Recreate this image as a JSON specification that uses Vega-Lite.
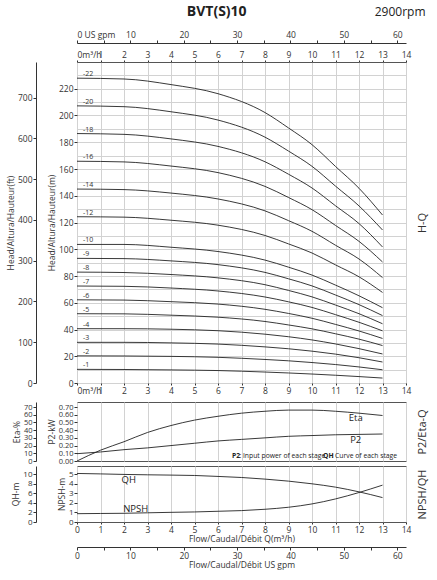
{
  "$schema": "https://vega.github.io/schema/vega-lite/v6.json",
  "padding": {"left": 5, "top": 4, "right": 2, "bottom": 2},
  "title": {"text": "BVT(S)10", "fontSize": 14, "fontWeight": "bold", "anchor": "middle", "color": "#222", "offset": -14},
  "datasets": {
    "hq": [
      {"stage":1,"q":0,"head":10.2},{"stage":1,"q":2,"head":10.1},{"stage":1,"q":4,"head":9.8},{"stage":1,"q":6,"head":9.3},{"stage":1,"q":8,"head":8.2},{"stage":1,"q":9,"head":7.5},{"stage":1,"q":10,"head":6.7},{"stage":1,"q":11,"head":5.8},{"stage":1,"q":12,"head":4.8},{"stage":1,"q":13,"head":3.7},
      {"stage":2,"q":0,"head":20.3},{"stage":2,"q":2,"head":20.2},{"stage":2,"q":4,"head":19.9},{"stage":2,"q":6,"head":19.2},{"stage":2,"q":8,"head":17.6},{"stage":2,"q":9,"head":16.6},{"stage":2,"q":10,"head":15.3},{"stage":2,"q":11,"head":13.8},{"stage":2,"q":12,"head":12.0},{"stage":2,"q":13,"head":9.9},
      {"stage":3,"q":0,"head":30.4},{"stage":3,"q":2,"head":30.4},{"stage":3,"q":4,"head":30.0},{"stage":3,"q":6,"head":29.1},{"stage":3,"q":8,"head":27.0},{"stage":3,"q":9,"head":25.6},{"stage":3,"q":10,"head":23.8},{"stage":3,"q":11,"head":21.6},{"stage":3,"q":12,"head":18.9},{"stage":3,"q":13,"head":15.7},
      {"stage":4,"q":0,"head":40.6},{"stage":4,"q":2,"head":40.6},{"stage":4,"q":4,"head":40.2},{"stage":4,"q":6,"head":39.1},{"stage":4,"q":8,"head":36.5},{"stage":4,"q":9,"head":34.6},{"stage":4,"q":10,"head":32.2},{"stage":4,"q":11,"head":29.2},{"stage":4,"q":12,"head":25.7},{"stage":4,"q":13,"head":21.7},
      {"stage":5,"q":0,"head":51.8},{"stage":5,"q":2,"head":51.7},{"stage":5,"q":4,"head":50.7},{"stage":5,"q":6,"head":49.2},{"stage":5,"q":8,"head":46.0},{"stage":5,"q":9,"head":43.4},{"stage":5,"q":10,"head":40.5},{"stage":5,"q":11,"head":36.8},{"stage":5,"q":12,"head":32.8},{"stage":5,"q":13,"head":28.0},
      {"stage":6,"q":0,"head":62.2},{"stage":6,"q":2,"head":62.0},{"stage":6,"q":4,"head":60.8},{"stage":6,"q":6,"head":59.0},{"stage":6,"q":8,"head":55.1},{"stage":6,"q":9,"head":52.0},{"stage":6,"q":10,"head":48.4},{"stage":6,"q":11,"head":43.8},{"stage":6,"q":12,"head":38.9},{"stage":6,"q":13,"head":33.3},
      {"stage":7,"q":0,"head":72.5},{"stage":7,"q":2,"head":72.3},{"stage":7,"q":4,"head":71.0},{"stage":7,"q":6,"head":68.8},{"stage":7,"q":8,"head":64.3},{"stage":7,"q":9,"head":60.7},{"stage":7,"q":10,"head":56.5},{"stage":7,"q":11,"head":51.1},{"stage":7,"q":12,"head":45.4},{"stage":7,"q":13,"head":39.0},
      {"stage":8,"q":0,"head":82.9},{"stage":8,"q":2,"head":82.6},{"stage":8,"q":4,"head":81.1},{"stage":8,"q":6,"head":78.6},{"stage":8,"q":8,"head":73.5},{"stage":8,"q":9,"head":69.2},{"stage":8,"q":10,"head":64.4},{"stage":8,"q":11,"head":58.3},{"stage":8,"q":12,"head":51.8},{"stage":8,"q":13,"head":44.3},
      {"stage":9,"q":0,"head":93.2},{"stage":9,"q":2,"head":93.0},{"stage":9,"q":4,"head":91.3},{"stage":9,"q":6,"head":88.5},{"stage":9,"q":8,"head":82.7},{"stage":9,"q":9,"head":77.9},{"stage":9,"q":10,"head":72.6},{"stage":9,"q":11,"head":65.8},{"stage":9,"q":12,"head":58.6},{"stage":9,"q":13,"head":50.4},
      {"stage":10,"q":0,"head":103.6},{"stage":10,"q":2,"head":103.6},{"stage":10,"q":4,"head":101.5},{"stage":10,"q":6,"head":98.3},{"stage":10,"q":8,"head":91.9},{"stage":10,"q":9,"head":86.6},{"stage":10,"q":10,"head":80.7},{"stage":10,"q":11,"head":73.2},{"stage":10,"q":12,"head":65.2},{"stage":10,"q":13,"head":56.3},
      {"stage":12,"q":0,"head":124.3},{"stage":12,"q":2,"head":124.0},{"stage":12,"q":4,"head":121.7},{"stage":12,"q":6,"head":118.0},{"stage":12,"q":8,"head":110.3},{"stage":12,"q":9,"head":104.0},{"stage":12,"q":10,"head":97.2},{"stage":12,"q":11,"head":88.3},{"stage":12,"q":12,"head":79.4},{"stage":12,"q":13,"head":67.7},
      {"stage":14,"q":0,"head":145.0},{"stage":14,"q":2,"head":144.6},{"stage":14,"q":4,"head":142.0},{"stage":14,"q":6,"head":137.6},{"stage":14,"q":8,"head":128.7},{"stage":14,"q":9,"head":121.4},{"stage":14,"q":10,"head":113.4},{"stage":14,"q":11,"head":103.0},{"stage":14,"q":12,"head":92.7},{"stage":14,"q":13,"head":78.8},
      {"stage":16,"q":0,"head":165.8},{"stage":16,"q":2,"head":165.3},{"stage":16,"q":4,"head":162.2},{"stage":16,"q":6,"head":157.3},{"stage":16,"q":8,"head":147.0},{"stage":16,"q":9,"head":138.7},{"stage":16,"q":10,"head":129.6},{"stage":16,"q":11,"head":117.8},{"stage":16,"q":12,"head":105.9},{"stage":16,"q":13,"head":90.5},
      {"stage":18,"q":0,"head":186.5},{"stage":18,"q":2,"head":185.9},{"stage":18,"q":4,"head":182.5},{"stage":18,"q":6,"head":176.9},{"stage":18,"q":8,"head":165.4},{"stage":18,"q":9,"head":156.1},{"stage":18,"q":10,"head":145.8},{"stage":18,"q":11,"head":132.5},{"stage":18,"q":12,"head":119.2},{"stage":18,"q":13,"head":101.7},
      {"stage":20,"q":0,"head":207.2},{"stage":20,"q":2,"head":206.6},{"stage":20,"q":4,"head":202.8},{"stage":20,"q":6,"head":196.6},{"stage":20,"q":8,"head":183.8},{"stage":20,"q":9,"head":173.4},{"stage":20,"q":10,"head":162.0},{"stage":20,"q":11,"head":147.2},{"stage":20,"q":12,"head":132.4},{"stage":20,"q":13,"head":114.4},
      {"stage":22,"q":0,"head":227.9},{"stage":22,"q":2,"head":227.3},{"stage":22,"q":4,"head":223.1},{"stage":22,"q":6,"head":216.3},{"stage":22,"q":8,"head":202.2},{"stage":22,"q":9,"head":190.7},{"stage":22,"q":10,"head":178.2},{"stage":22,"q":11,"head":161.9},{"stage":22,"q":12,"head":145.6},{"stage":22,"q":13,"head":125.6}
    ],
    "perf": [
      {"q":0,"p2":0.095,"eta":0,"npsh":0.87,"qh":10.14},
      {"q":1,"p2":0.117,"eta":14,"npsh":0.89,"qh":10.05},
      {"q":2,"p2":0.147,"eta":25,"npsh":0.91,"qh":9.94},
      {"q":3,"p2":0.17,"eta":37,"npsh":0.96,"qh":9.86},
      {"q":4,"p2":0.2,"eta":46,"npsh":1.01,"qh":9.8},
      {"q":5,"p2":0.23,"eta":53,"npsh":1.05,"qh":9.72},
      {"q":6,"p2":0.26,"eta":58,"npsh":1.12,"qh":9.52},
      {"q":7,"p2":0.28,"eta":62,"npsh":1.19,"qh":9.3},
      {"q":8,"p2":0.3,"eta":64.5,"npsh":1.33,"qh":8.96},
      {"q":9,"p2":0.32,"eta":66,"npsh":1.54,"qh":8.54},
      {"q":10,"p2":0.33,"eta":66,"npsh":1.89,"qh":7.98},
      {"q":11,"p2":0.34,"eta":64.5,"npsh":2.41,"qh":7.28},
      {"q":12,"p2":0.345,"eta":62,"npsh":3.08,"qh":6.3},
      {"q":13,"p2":0.35,"eta":59,"npsh":3.85,"qh":5.1}
    ]
  },
  "spacing": -3,
  "vconcat": [
    {
      "width": 329,
      "height": 321,
      "layer": [
        {
          "data": {"name": "hq"},
          "encoding": {
            "x": {"field": "q", "type": "quantitative", "scale": {"domain": [0, 14], "nice": false},
              "axis": {"orient": "top", "values": [0,1,2,3,4,5,6,7,8,9,10,11,12,13,14], "title": null, "domain": false, "grid": true, "tickSize": 2,
                "labelFontSize": 8.5,
                "labelExpr": "datum.value == 0 ? '0m³/h' : datum.label",
                "labelAlign": {"condition": {"test": "datum.value == 0", "value": "left"}, "value": "center"}}},
            "y": {"field": "head", "type": "quantitative", "scale": {"domain": [0, 240], "nice": false},
              "axis": {"values": [0,10,20,30,40,50,60,70,80,90,100,110,120,130,140,150,160,170,180,190,200,210,220,230],
                "labelExpr": "datum.value % 20 == 0 ? datum.label : ''",
                "tickOpacity": {"condition": {"test": "datum.value % 20 == 0", "value": 1}, "value": 0},
                "domain": false, "grid": true, "title": "Head/Altura/Hauteur(m)", "titlePadding": 2}}
          },
          "layer": [
            {"mark": {"type": "line", "interpolate": "monotone", "color": "#222", "strokeWidth": 0.9},
              "encoding": {"detail": {"field": "stage"}}},
            {"transform": [{"filter": "datum.q == 0"}, {"calculate": "'-' + datum.stage", "as": "lbl"}],
              "mark": {"type": "text", "align": "left", "baseline": "alphabetic", "dx": 6, "dy": -2, "fontSize": 7, "color": "#333"},
              "encoding": {"text": {"field": "lbl"}}}
          ]
        },
        {
          "data": {"values": [{"gpm": 0, "z": 0}, {"gpm": 60, "z": 1}]},
          "mark": {"type": "point", "opacity": 0},
          "encoding": {
            "x": {"field": "gpm", "type": "quantitative", "scale": {"domain": [0, 61.64], "nice": false},
              "axis": {"orient": "top", "offset": 19, "values": [0,5,10,15,20,25,30,35,40,45,50,55,60], "grid": false,
                "labelExpr": "datum.value == 0 ? '0 US gpm' : (datum.value % 10 == 0 ? datum.label : '')",
                "labelAlign": {"condition": {"test": "datum.value == 0", "value": "left"}, "value": "center"},
                "labelFontSize": 8.5,
                "title": "2900rpm", "titleFontSize": 12, "titleColor": "#222", "titleAnchor": "end", "titleAlign": "right", "titleX": 348, "titlePadding": 12}},
            "y": {"field": "z", "type": "quantitative", "scale": {"domain": [0, 1]},
              "axis": {"orient": "right", "title": "H-Q", "titleAngle": -90, "titleFontSize": 11, "labels": false, "ticks": false, "domain": false, "grid": false, "titlePadding": 21}}
          }
        },
        {
          "data": {"values": [{"q": 0, "ft": 0}, {"q": 14, "ft": 700}]},
          "mark": {"type": "point", "opacity": 0},
          "encoding": {
            "x": {"field": "q", "type": "quantitative", "scale": {"domain": [0, 14], "nice": false},
              "axis": {"orient": "bottom", "values": [0,1,2,3,4,5,6,7,8,9,10,11,12,13,14], "title": null, "grid": false, "domain": false, "tickSize": 2,
                "labelFontSize": 8.5,
                "labelExpr": "datum.value == 0 ? '0m³/h' : datum.label",
                "labelAlign": {"condition": {"test": "datum.value == 0", "value": "left"}, "value": "center"}}},
            "y": {"field": "ft", "type": "quantitative", "scale": {"domain": [0, 787.4], "nice": false},
              "axis": {"orient": "left", "offset": 41, "values": [0,100,200,300,400,500,600,700], "grid": false, "title": "Head/Altura/Hauteur(ft)", "titlePadding": 2}}
          }
        }
      ],
      "resolve": {"scale": {"x": "independent", "y": "independent"}}
    },
    {
      "width": 329,
      "height": 59,
      "data": {"name": "perf"},
      "layer": [
        {
          "mark": {"type": "line", "interpolate": "monotone", "color": "#222", "strokeWidth": 0.9},
          "encoding": {
            "x": {"field": "q", "type": "quantitative", "scale": {"domain": [0, 14], "nice": false},
              "axis": {"orient": "top", "values": [0,1,2,3,4,5,6,7,8,9,10,11,12,13,14], "labels": false, "ticks": true, "tickSize": 9, "tickOpacity": 0, "domain": false, "grid": true, "title": null}},
            "y": {"field": "p2", "type": "quantitative", "scale": {"domain": [0, 0.765], "nice": false},
              "axis": {"values": [0,0.1,0.2,0.3,0.4,0.5,0.6,0.7], "format": ".2f", "grid": false, "domain": false, "title": "P2-kW", "labelFontSize": 7.5, "titlePadding": 2}}
          }
        },
        {
          "mark": {"type": "line", "interpolate": "monotone", "color": "#222", "strokeWidth": 0.9},
          "encoding": {
            "x": {"field": "q", "type": "quantitative", "scale": {"domain": [0, 14], "nice": false}, "axis": null},
            "y": {"field": "eta", "type": "quantitative", "scale": {"domain": [0, 76.5], "nice": false},
              "axis": {"orient": "left", "offset": 41, "values": [0,10,20,30,40,50,60,70], "grid": false, "title": "Eta-%", "labelFontSize": 7.5, "titlePadding": 2}}
          }
        },
        {
          "data": {"values": [{"q": 11.86, "v": 0.56, "t": "Eta"}, {"q": 11.86, "v": 0.27, "t": "P2"}]},
          "mark": {"type": "text", "fontSize": 9.5, "color": "#222"},
          "encoding": {
            "x": {"field": "q", "type": "quantitative", "scale": {"domain": [0, 14], "nice": false}, "axis": null},
            "y": {"field": "v", "type": "quantitative", "scale": {"domain": [0, 0.765], "nice": false}, "axis": null},
            "text": {"field": "t"}
          }
        },
        {
          "data": {"values": [{"q": 6.6, "v": 0.04, "t": "P2"}, {"q": 10.47, "v": 0.04, "t": "QH"}]},
          "mark": {"type": "text", "align": "left", "baseline": "alphabetic", "fontSize": 6.8, "fontWeight": "bold", "color": "#222"},
          "encoding": {
            "x": {"field": "q", "type": "quantitative", "scale": {"domain": [0, 14], "nice": false}, "axis": null},
            "y": {"field": "v", "type": "quantitative", "scale": {"domain": [0, 0.765], "nice": false}, "axis": null},
            "text": {"field": "t"}
          }
        },
        {
          "data": {"values": [{"q": 6.91, "v": 0.04, "t": ": Input power of each stage"}, {"q": 10.83, "v": 0.04, "t": ": Curve of each stage"}]},
          "mark": {"type": "text", "align": "left", "baseline": "alphabetic", "fontSize": 6.8, "color": "#222"},
          "encoding": {
            "x": {"field": "q", "type": "quantitative", "scale": {"domain": [0, 14], "nice": false}, "axis": null},
            "y": {"field": "v", "type": "quantitative", "scale": {"domain": [0, 0.765], "nice": false},
              "axis": {"orient": "right", "title": "P2/Eta-Q", "titleAngle": -90, "titleFontSize": 11, "labels": false, "ticks": false, "domain": false, "grid": false, "titlePadding": 21}},
            "text": {"field": "t"}
          }
        }
      ],
      "resolve": {"scale": {"x": "independent", "y": "independent"}}
    },
    {
      "width": 329,
      "height": 56,
      "layer": [
        {
          "data": {"name": "perf"},
          "mark": {"type": "line", "interpolate": "monotone", "color": "#222", "strokeWidth": 0.9},
          "encoding": {
            "x": {"field": "q", "type": "quantitative", "scale": {"domain": [0, 14], "nice": false},
              "axis": {"values": [0,1,2,3,4,5,6,7,8,9,10,11,12,13,14], "grid": true, "domain": false, "tickSize": 2, "labelFontSize": 8.5,
                "title": "Flow/Caudal/Débit Q(m³/h)", "titlePadding": 1}},
            "y": {"field": "npsh", "type": "quantitative", "scale": {"domain": [0, 5.85], "nice": false},
              "axis": {"values": [0,1,2,3,4,5], "grid": false, "domain": false, "title": "NPSH-m", "labelFontSize": 8, "titlePadding": 2}}
          }
        },
        {
          "data": {"name": "perf"},
          "mark": {"type": "line", "interpolate": "monotone", "color": "#222", "strokeWidth": 0.9},
          "encoding": {
            "x": {"field": "q", "type": "quantitative", "scale": {"domain": [0, 14], "nice": false}, "axis": null},
            "y": {"field": "qh", "type": "quantitative", "scale": {"domain": [0, 11.7], "nice": false},
              "axis": {"orient": "left", "offset": 41, "values": [0,2,4,6,8,10], "grid": false, "title": "QH-m", "labelFontSize": 8, "titlePadding": 2}}
          }
        },
        {
          "data": {"values": [{"q": 2.2, "v": 4.4, "t": "QH"}, {"q": 2.5, "v": 1.37, "t": "NPSH"}]},
          "mark": {"type": "text", "fontSize": 9.5, "color": "#222"},
          "encoding": {
            "x": {"field": "q", "type": "quantitative", "scale": {"domain": [0, 14], "nice": false}, "axis": null},
            "y": {"field": "v", "type": "quantitative", "scale": {"domain": [0, 5.85], "nice": false}, "axis": null},
            "text": {"field": "t"}
          }
        },
        {
          "data": {"values": [{"gpm": 0, "z": 0}, {"gpm": 60, "z": 1}]},
          "mark": {"type": "point", "opacity": 0},
          "encoding": {
            "x": {"field": "gpm", "type": "quantitative", "scale": {"domain": [0, 61.64], "nice": false},
              "axis": {"orient": "bottom", "offset": 25, "values": [0,5,10,15,20,25,30,35,40,45,50,55,60], "grid": false,
                "labelExpr": "datum.value % 10 == 0 ? datum.label : ''", "labelFontSize": 8.5,
                "title": "Flow/Caudal/Débit  US gpm", "titlePadding": 1}},
            "y": {"field": "z", "type": "quantitative", "scale": {"domain": [0, 1]},
              "axis": {"orient": "right", "title": "NPSH/QH", "titleAngle": -90, "titleFontSize": 11, "labels": false, "ticks": false, "domain": false, "grid": false, "titlePadding": 21}}
          }
        }
      ],
      "resolve": {"scale": {"x": "independent", "y": "independent"}}
    }
  ],
  "config": {
    "font": "Open Sans",
    "view": {"stroke": "#555"},
    "axis": {"labelFont": "Open Sans", "titleFont": "Open Sans", "labelFontSize": 8.5, "titleFontSize": 8.5, "titleFontWeight": "normal",
      "labelColor": "#333", "titleColor": "#333", "domainColor": "#333", "tickColor": "#333", "tickSize": 3, "gridColor": "#d2d2d2",
      "labelOverlap": false, "labelFlush": false, "labelPadding": 1},
    "title": {"font": "Open Sans"}
  }
}
